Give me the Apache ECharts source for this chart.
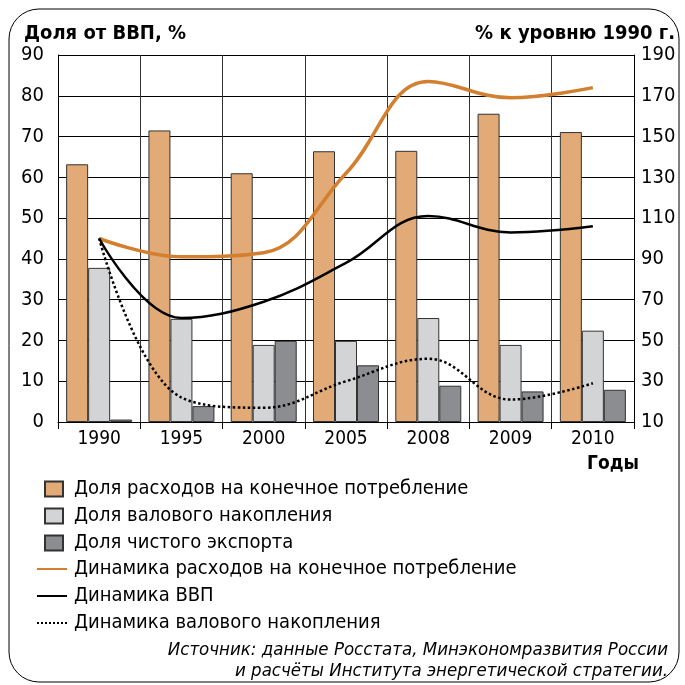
<!DOCTYPE html>
<html><head><meta charset="utf-8">
<script src="https://cdn.jsdelivr.net/npm/echarts@6/dist/echarts.min.js"></script>
<style>html,body{margin:0;padding:0;background:#fff}#c{width:685px;height:685px}</style>
</head><body><div id="c"></div>
<script>
var years = ['1990','1995','2000','2005','2008','2009','2010'];
var shareConsumption = [63.2, 71.5, 61.0, 66.4, 66.5, 75.6, 71.1];
var shareAccumulation = [37.8, 25.3, 18.9, 19.9, 25.5, 18.9, 22.4];
var shareExport = [0.6, 3.9, 19.9, 13.9, 8.9, 7.5, 7.9];
var dynConsumption = [100, 91, 93, 132, 177, 169, 174];
var dynGDP = [100, 61, 69, 88, 111, 103, 106];
var dynAccumulation = [100, 22, 17, 30, 41, 21, 29];
var leftTicks = {min: 0, max: 90, interval: 10};
var rightTicks = {min: 10, max: 190, interval: 20};

var FONT = "'Liberation Sans Narrow','DejaVu Sans Condensed','Noto Sans',sans-serif";
var chart = echarts.init(document.getElementById('c'));
var names = ['Доля расходов на конечное потребление','Доля валового накопления','Доля чистого экспорта',
  'Динамика расходов на конечное потребление','Динамика ВВП','Динамика валового накопления'];
var barBorder = {borderColor:'#333', borderWidth:1};
chart.setOption({
  animation:false,
  textStyle:{fontFamily:FONT},
  grid:{left:58, right:51, top:55, bottom:263},
  xAxis:{type:'category', data:years,
    axisLine:{lineStyle:{color:'#000', width:1}},
    axisTick:{show:true, length:7, lineStyle:{color:'#000'}},
    axisLabel:{color:'#000', fontSize:19, fontFamily:FONT, margin:8},
    splitLine:{show:true, lineStyle:{color:'#333', width:1}}},
  yAxis:[
    {type:'value', min:leftTicks.min, max:leftTicks.max, interval:leftTicks.interval, position:'left',
     axisLine:{show:true, lineStyle:{color:'#000'}}, axisTick:{show:false},
     axisLabel:{color:'#000', fontSize:20, fontFamily:FONT, margin:14},
     splitLine:{show:true, lineStyle:{color:'#000', width:1}}},
    {type:'value', min:rightTicks.min, max:rightTicks.max, interval:rightTicks.interval, position:'right',
     axisLine:{show:true, lineStyle:{color:'#000'}}, axisTick:{show:false},
     axisLabel:{color:'#000', fontSize:20, fontFamily:FONT, margin:7},
     splitLine:{show:false}}
  ],
  legend:[
    {orient:'vertical', left:44, top:479, padding:0, itemWidth:18, itemHeight:15, itemGap:7, icon:'rect',
     data:[names[0],names[1],names[2]],
     textStyle:{fontSize:20, color:'#000', fontFamily:FONT, padding:[0,0,0,6]}},
    {orient:'vertical', left:36, top:559, padding:0, itemWidth:30, itemHeight:15, itemGap:7,
     data:[names[3],names[4],names[5]], itemStyle:{opacity:0},
     textStyle:{fontSize:20, color:'#000', fontFamily:FONT, padding:[0,0,0,2]}}
  ],
  series:[
    {name:names[0], type:'bar', data:shareConsumption, barWidth:22, barGap:'0%', itemStyle:Object.assign({color:'#E1AA77'},barBorder)},
    {name:names[1], type:'bar', data:shareAccumulation, barWidth:22, barGap:'0%', itemStyle:Object.assign({color:'#D3D4D6'},barBorder)},
    {name:names[2], type:'bar', data:shareExport, barWidth:22, barGap:'0%', itemStyle:Object.assign({color:'#8C8D90'},barBorder)},
    {name:names[3], type:'line', yAxisIndex:1, data:dynConsumption, smooth:0.4, symbol:'none', lineStyle:{color:'#D27F2F', width:3.5}, itemStyle:{color:'#D27F2F'}},
    {name:names[4], type:'line', yAxisIndex:1, data:dynGDP, smooth:0.4, symbol:'none', lineStyle:{color:'#000', width:2.5}, itemStyle:{color:'#000'}},
    {name:names[5], type:'line', yAxisIndex:1, data:dynAccumulation, smooth:0.4, symbol:'none', lineStyle:{color:'#000', width:2.5, type:'dotted'}, itemStyle:{color:'#000'}}
  ],
  graphic:[
    {type:'rect', shape:{x:9, y:9, width:670, height:673, r:30}, style:{fill:'none', stroke:'#000', lineWidth:1}, z:-1},
    {type:'text', left:24, top:24, style:{text:'Доля от ВВП, %', font:'bold 20px '+FONT, fill:'#000'}},
    {type:'text', right:10, top:24, style:{text:'% к уровню 1990 г.', font:'bold 20px '+FONT, fill:'#000'}},
    {type:'text', left:587, top:455, style:{text:'Годы', font:'bold 19px '+FONT, fill:'#000'}},
    {type:'text', right:17, top:641, style:{text:'Источник: данные Росстата, Минэкономразвития России', font:'italic 18.5px '+FONT, fill:'#000'}},
    {type:'text', right:17, top:662, style:{text:'и расчёты Института энергетической стратегии.', font:'italic 18.5px '+FONT, fill:'#000'}}
  ]
});
</script></body></html>
